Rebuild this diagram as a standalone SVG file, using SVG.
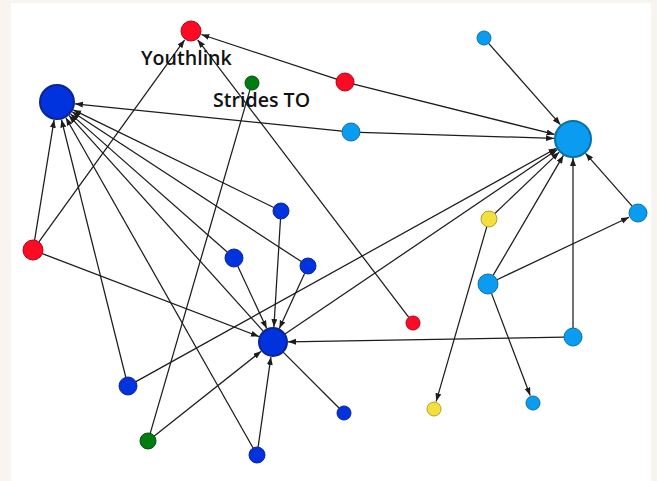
<svg xmlns="http://www.w3.org/2000/svg" width="657" height="481" viewBox="0 0 657 481">
  <style>
    .edge { stroke: #1c1c1c; stroke-width: 1.25; fill: none; }
    .arr { marker-end: url(#head); }
    .red { fill: #ff0a24; stroke: #b30016; stroke-width: 1; }
    .blue { fill: #0033dd; stroke: #0b2596; stroke-width: 1; }
    .sky { fill: #0a9cf0; stroke: #0b6fa8; stroke-width: 1; }
    .green { fill: #007d0e; stroke: #00520a; stroke-width: 1; }
    .yellow { fill: #f3e03e; stroke: #b59f2a; stroke-width: 1; }
    .hub { stroke-width: 2; }
    .label { font-family: "Open Sans", "Noto Sans", "DejaVu Sans", sans-serif; font-weight: 600; font-size: 19.6px; fill: #111; }
  </style>
  <defs>
    <marker id="head" markerUnits="userSpaceOnUse" markerWidth="9" markerHeight="7" refX="8" refY="3" orient="auto">
      <path d="M0,0 L8,3 L0,6 z" fill="#1c1c1c"/>
    </marker>
  </defs>

  <!-- page and panel -->
  <rect x="0" y="0" width="657" height="481" fill="#f8f4f0"/>
  <rect x="11" y="3" width="640" height="478" fill="#ffffff"/>

  <g id="connectors">
    <line class="edge arr" x1="38.9" y1="241.9" x2="184.6" y2="39.9"/>
    <line class="edge arr" x1="336.5" y1="79.2" x2="201.4" y2="34.5"/>
    <line class="edge arr" x1="408.8" y1="317.4" x2="197.7" y2="39.8"/>
    <line class="edge arr" x1="34.6" y1="240.1" x2="54.1" y2="119.8"/>
    <line class="edge arr" x1="125.8" y1="377.3" x2="61.4" y2="119.5"/>
    <line class="edge arr" x1="253.1" y1="448.0" x2="65.9" y2="117.7"/>
    <line class="edge arr" x1="263.6" y1="331.6" x2="69.0" y2="115.4"/>
    <line class="edge arr" x1="227.2" y1="252.0" x2="70.5" y2="113.9"/>
    <line class="edge arr" x1="301.3" y1="261.6" x2="72.1" y2="111.8"/>
    <line class="edge arr" x1="273.8" y1="207.5" x2="73.2" y2="109.9"/>
    <line class="edge arr" x1="342.0" y1="131.1" x2="74.9" y2="103.8"/>
    <line class="edge arr" x1="42.3" y1="253.6" x2="259.0" y2="336.6"/>
    <line class="edge arr" x1="280.5" y1="219.0" x2="273.9" y2="327.0"/>
    <line class="edge arr" x1="237.8" y1="266.2" x2="266.7" y2="328.4"/>
    <line class="edge arr" x1="304.7" y1="273.3" x2="279.3" y2="328.4"/>
    <line class="edge arr" x1="258.1" y1="447.1" x2="270.9" y2="356.9"/>
    <line class="edge arr" x1="154.3" y1="436.0" x2="261.2" y2="351.3"/>
    <line class="edge arr" x1="564.0" y1="337.2" x2="288.0" y2="341.8"/>
    <line class="edge" x1="282.9" y1="351.9" x2="339.0" y2="408.0"/>
    <line class="edge" x1="250.0" y1="89.7" x2="150.2" y2="433.3"/>
    <line class="edge arr" x1="488.6" y1="43.3" x2="560.4" y2="124.7"/>
    <line class="edge arr" x1="353.7" y1="84.2" x2="554.6" y2="134.4"/>
    <line class="edge arr" x1="360.0" y1="132.3" x2="554.0" y2="138.4"/>
    <line class="edge arr" x1="135.9" y1="381.6" x2="556.4" y2="148.2"/>
    <line class="edge arr" x1="284.6" y1="334.2" x2="557.3" y2="149.6"/>
    <line class="edge arr" x1="494.8" y1="213.5" x2="559.2" y2="152.1"/>
    <line class="edge arr" x1="493.1" y1="275.4" x2="563.4" y2="155.4"/>
    <line class="edge arr" x1="573.0" y1="328.0" x2="573.0" y2="158.0"/>
    <line class="edge arr" x1="632.1" y1="206.2" x2="585.5" y2="153.3"/>
    <line class="edge arr" x1="497.0" y1="279.7" x2="629.0" y2="217.3"/>
    <line class="edge arr" x1="491.5" y1="293.4" x2="530.2" y2="395.5"/>
    <line class="edge arr" x1="486.8" y1="226.7" x2="436.2" y2="401.3"/>
  </g>

  <g id="youthlink"><circle class="red" cx="191" cy="31" r="10"/></g>
  <g id="strides-to"><circle class="green" cx="252" cy="83" r="7"/></g>
  <g id="hub-blue"><circle class="blue hub" cx="57" cy="102" r="17"/></g>
  <g id="red-left"><circle class="red" cx="33" cy="250" r="10"/></g>
  <g id="blue-a"><circle class="blue" cx="281" cy="211" r="8"/></g>
  <g id="blue-b"><circle class="blue" cx="234" cy="258" r="9"/></g>
  <g id="blue-c"><circle class="blue" cx="308" cy="266" r="8"/></g>
  <g id="hub-center"><circle class="blue hub" cx="273" cy="342" r="14"/></g>
  <g id="blue-d"><circle class="blue" cx="128" cy="386" r="9"/></g>
  <g id="green-low"><circle class="green" cx="148" cy="441" r="8"/></g>
  <g id="blue-e"><circle class="blue" cx="257" cy="455" r="8"/></g>
  <g id="blue-f"><circle class="blue" cx="344" cy="413" r="7"/></g>
  <g id="red-top"><circle class="red" cx="345" cy="82" r="9"/></g>
  <g id="sky-a"><circle class="sky" cx="351" cy="132" r="9"/></g>
  <g id="sky-b"><circle class="sky" cx="484" cy="38" r="7"/></g>
  <g id="hub-sky"><circle class="sky hub" cx="573" cy="139" r="18" stroke="#165b86"/></g>
  <g id="yellow-a"><circle class="yellow" cx="489" cy="219" r="8"/></g>
  <g id="sky-c"><circle class="sky" cx="638" cy="213" r="9"/></g>
  <g id="sky-d"><circle class="sky" cx="488" cy="284" r="10"/></g>
  <g id="red-low"><circle class="red" cx="413" cy="323" r="7"/></g>
  <g id="sky-e"><circle class="sky" cx="573" cy="337" r="9"/></g>
  <g id="yellow-b"><circle class="yellow" cx="434" cy="409" r="7"/></g>
  <g id="sky-f"><circle class="sky" cx="533" cy="403" r="7"/></g>

  <g id="labels">
    <text class="label" x="141" y="65">Youthlink</text>
    <text class="label" x="213" y="107">Strides TO</text>
  </g>
</svg>
